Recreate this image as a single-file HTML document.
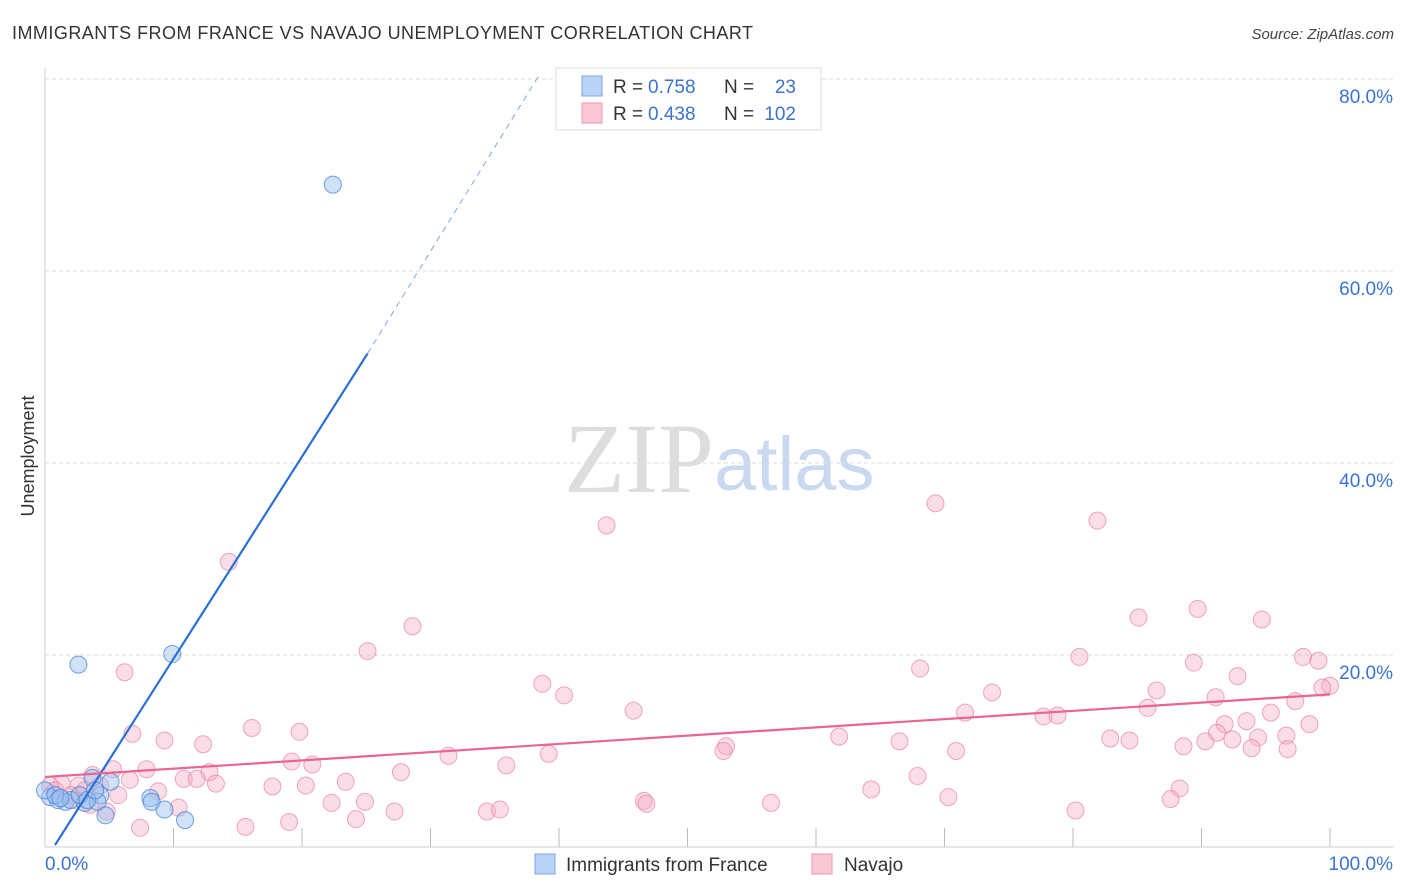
<!DOCTYPE html>
<html><head><meta charset="utf-8">
<style>
body{margin:0;background:#fff;font-family:"Liberation Sans",sans-serif;}
svg{display:block}
</style></head>
<body>
<svg id="chart" width="1406" height="892">
<text x="12" y="39" font-size="18" fill="#333" textLength="741">IMMIGRANTS FROM FRANCE VS NAVAJO UNEMPLOYMENT CORRELATION CHART</text>
<text x="1394" y="39" font-size="15" fill="#444" font-style="italic" text-anchor="end">Source: ZipAtlas.com</text>
<text x="34" y="456" font-size="18" fill="#333" text-anchor="middle" transform="rotate(-90 34 456)">Unemployment</text>
<text x="714" y="492" font-size="100" fill="#ddd" font-family="Liberation Serif" text-anchor="end">ZIP</text>
<text x="714" y="490" font-size="76" fill="#c9d9f0">atlas</text>
<g id="grid"></g><g id="pts"></g><g id="lines"></g>
<g>
<rect x="556" y="68" width="265" height="62" fill="#fff" stroke="#ddd"/>
<rect x="582" y="76" width="20" height="20" fill="#b9d3f5" stroke="#7aa7e6"/>
<rect x="582" y="103" width="20" height="20" fill="#f9c7d5" stroke="#f095b0"/>
<text x="613" y="93" font-size="19" fill="#333">R =</text>
<text x="648" y="93" font-size="19" fill="#3b73d1">0.758</text>
<text x="724" y="93" font-size="19" fill="#333">N =</text>
<text x="796" y="93" font-size="19" fill="#3b73d1" text-anchor="end">23</text>
<text x="613" y="120" font-size="19" fill="#333">R =</text>
<text x="648" y="120" font-size="19" fill="#3b73d1">0.438</text>
<text x="724" y="120" font-size="19" fill="#333">N =</text>
<text x="796" y="120" font-size="19" fill="#3b73d1" text-anchor="end">102</text>
</g>
<g>
<rect x="535" y="854" width="20" height="20" fill="#b9d3f5" stroke="#7aa7e6"/>
<text x="566" y="871" font-size="19" fill="#333">Immigrants from France</text>
<rect x="812" y="854" width="20" height="20" fill="#f9c7d5" stroke="#f095b0"/>
<text x="844" y="871" font-size="19" fill="#333">Navajo</text>
</g>
</svg>
<script>
const yTicks=[20,40,60,80];
const xTickLabels=["0.0%","100.0%"];
const blueX=[22.4,2.6,9.9,0.4,1.0,1.6,2.0,3.1,3.7,4.3,4.1,4.7,5.1,8.2,8.3,9.3,10.9,0,0.8,1.2,2.7,3.3,3.9];
const blueY=[69,19.0,20.1,5.2,4.9,4.7,4.9,4.6,7.2,5.4,4.7,3.3,6.8,5.1,4.7,3.9,2.8,5.9,5.4,5.1,5.4,4.9,5.9];
const pinkX=[14.3,43.7,69.3,81.9,28.6,25.1,6.2,85.1,89.7,94.7,38.7,40.4,68.1,80.5,89.4,97.9,99.1,73.7,92.8,86.5,91.1,100,99.4,45.8,97.3,71.6,85.8,95.4,77.7,78.8,16.1,19.8,6.8,9.3,93.5,91.8,98.4,82.9,84.4,90.3,92.4,88.6,94.4,96.6,91.2,61.8,66.5,53,52.8,12.3,70.9,93.9,96.7,31.4,39.2,19.2,20.8,35.9,7.9,5.3,3.7,12.8,10.8,11.8,23.4,27.7,67.9,13.3,17.7,20.3,8.8,5.7,2.6,1.3,0.4,88.3,64.3,46.6,46.8,70.3,56.5,87.6,22.3,24.9,10.4,4.8,27.2,34.4,35.4,80.2,24.2,19,15.6,7.4,0.8,2,3.1,4.3,6.6,2.3,3.5];
const pinkY=[29.7,33.5,35.8,34,23,20.4,18.2,23.9,24.8,23.7,17,15.8,18.6,19.8,19.2,19.8,19.4,16.1,17.8,16.3,15.6,16.8,16.6,14.2,15.2,14,14.5,14,13.6,13.7,12.4,12,11.8,11.1,13.1,12.8,12.8,11.3,11.1,11,11.2,10.5,11.4,11.6,11.9,11.5,11,10.5,10,10.7,10,10.3,10.2,9.5,9.7,8.9,8.6,8.5,8.1,8.1,7.5,7.8,7.1,7.1,6.8,7.8,7.4,6.6,6.3,6.4,5.8,5.4,6.4,6.6,6.4,6.1,6,4.8,4.5,5.2,4.6,5,4.6,4.7,4.1,3.7,3.7,3.7,3.9,3.8,2.9,2.6,2.1,2,5.9,5.4,5.9,6.4,7.0,4.9,4.4];
const blueFit=[[0.78,0.2],[25.1,51.4],[38.5,80.5]];
const pinkFit=[[0,7.3],[100,15.9]];
const X=v=>45+v*12.85, Y=v=>847-v*9.6;
const NS="http://www.w3.org/2000/svg";
function mk(tag,attrs,parent){const e=document.createElementNS(NS,tag);for(const k in attrs)e.setAttribute(k,attrs[k]);parent.appendChild(e);return e;}
const grid=document.getElementById('grid');
let ax=mk('line',{x1:45,y1:68,x2:45,y2:847,stroke:'#ccc'},grid);

let bx=mk('line',{x1:45,y1:847,x2:1394,y2:847,stroke:'#ccc'},grid);

yTicks.forEach(t=>{
 let l=mk('line',{x1:45,y1:Y(t),x2:1394,y2:Y(t),stroke:'#ddd','stroke-dasharray':'4,3'},grid);
 
 let tx=mk('text',{x:1393,y:Y(t)+24,'font-size':19,fill:'#3b73d1','text-anchor':'end'},grid);
 tx.textContent=t.toFixed(1)+'%';
 
});
for(let i=1;i<=10;i++){let l=mk('line',{x1:X(i*10),y1:828,x2:X(i*10),y2:847,stroke:'#bbb'},grid);
 }
[[45,'start',0],[1393,'end',1]].forEach(([x,a,i])=>{let t=mk('text',{x:x,y:870,'font-size':19,fill:'#3b73d1','text-anchor':a},grid);t.textContent=xTickLabels[i];
 });
const pts=document.getElementById('pts');
pinkX.forEach((v,i)=>{let c=mk('circle',{cx:X(v),cy:Y(pinkY[i]),r:8.5,fill:'rgba(246,170,195,0.4)',stroke:'rgba(234,130,165,0.7)'},pts);
 });
blueX.forEach((v,i)=>{let c=mk('circle',{cx:X(v),cy:Y(blueY[i]),r:8.5,fill:'rgba(150,190,240,0.45)',stroke:'rgba(70,130,215,0.75)'},pts);
 });
const lines=document.getElementById('lines');
let b1=mk('line',{x1:X(blueFit[0][0]),y1:Y(blueFit[0][1]),x2:X(blueFit[1][0]),y2:Y(blueFit[1][1]),stroke:'#2a6fd6','stroke-width':2.2},lines);

let b2=mk('line',{x1:X(blueFit[1][0]),y1:Y(blueFit[1][1]),x2:X(blueFit[2][0]),y2:Y(blueFit[2][1]),stroke:'#7aa7e6','stroke-width':1,'stroke-dasharray':'6,5'},lines);

let p1=mk('line',{x1:X(pinkFit[0][0]),y1:Y(pinkFit[0][1]),x2:X(pinkFit[1][0]),y2:Y(pinkFit[1][1]),stroke:'#e8668f','stroke-width':2.2},lines);

</script>
</body></html>
